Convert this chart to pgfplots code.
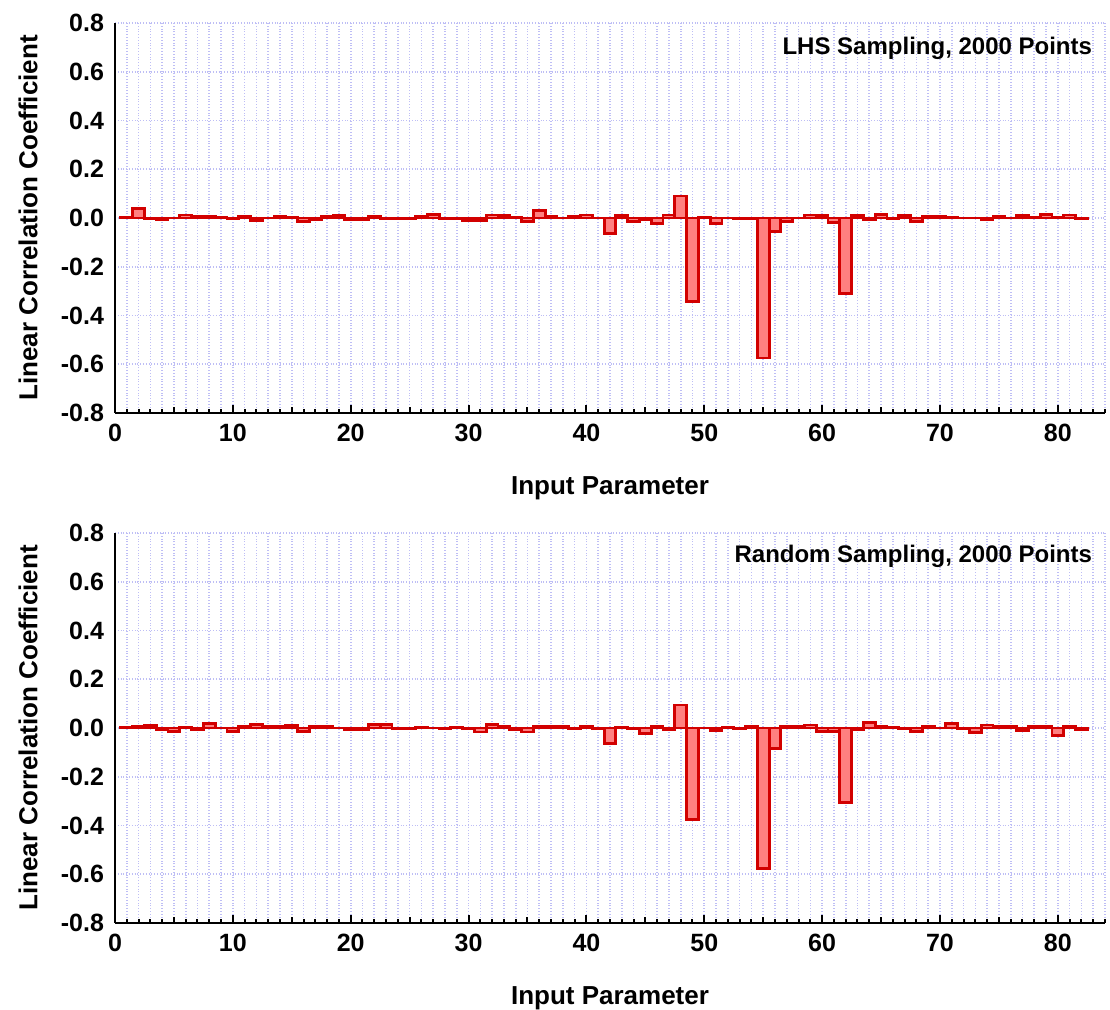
\documentclass[border=0pt]{standalone}
\usepackage{fontspec}
\setmainfont{Liberation Sans}
\usepackage{pgfplots}
\usepackage{pgfplotstable}
\pgfplotsset{compat=1.18}
\definecolor{gridc}{RGB}{190,190,245}
\definecolor{barfill}{RGB}{255,128,128}
\definecolor{bardraw}{RGB}{210,0,0}

\pgfplotstableread{
i v
1 0.002
2 0.04
3 -0.003
4 -0.007
5 0.0
6 0.012
7 0.007
8 0.007
9 0.003
10 -0.003
11 0.007
12 -0.01
13 0.0
14 0.006
15 0.004
16 -0.015
17 -0.005
18 0.005
19 0.01
20 -0.008
21 -0.005
22 0.005
23 -0.002
24 -0.002
25 -0.001
26 0.007
27 0.013
28 -0.003
29 -0.003
30 -0.01
31 -0.01
32 0.012
33 0.01
34 0.004
35 -0.015
36 0.03
37 0.005
38 0.0
39 0.008
40 0.012
41 0.0
42 -0.062
43 0.01
44 -0.015
45 -0.007
46 -0.022
47 0.012
48 0.09
49 -0.344
50 0.003
51 -0.022
52 0.0
53 -0.004
54 -0.004
55 -0.574
56 -0.057
57 -0.013
58 0.0
59 0.012
60 0.01
61 -0.02
62 -0.311
63 0.01
64 -0.007
65 0.015
66 -0.003
67 0.01
68 -0.013
69 0.006
70 0.008
71 0.003
72 0.0
73 0.0
74 -0.006
75 0.007
76 0.0
77 0.01
78 0.003
79 0.014
80 0.003
81 0.012
82 -0.003
}\lhs

\pgfplotstableread{
i v
1 0.002
2 0.008
3 0.01
4 -0.008
5 -0.015
6 0.003
7 -0.007
8 0.02
9 0.0
10 -0.014
11 0.008
12 0.013
13 0.005
14 0.005
15 0.01
16 -0.015
17 0.005
18 0.007
19 0.0
20 -0.008
21 -0.008
22 0.013
23 0.013
24 -0.003
25 -0.003
26 0.004
27 0.0
28 -0.002
29 0.003
30 -0.002
31 -0.016
32 0.013
33 0.008
34 -0.005
35 -0.016
36 0.008
37 0.008
38 0.008
39 -0.003
40 0.008
41 -0.002
42 -0.064
43 0.004
44 -0.003
45 -0.022
46 0.008
47 -0.008
48 0.094
49 -0.376
50 0.0
51 -0.01
52 0.002
53 -0.003
54 0.005
55 -0.578
56 -0.084
57 0.008
58 0.008
59 0.012
60 -0.015
61 -0.015
62 -0.305
63 -0.006
64 0.022
65 0.006
66 0.002
67 -0.002
68 -0.015
69 0.007
70 0.0
71 0.018
72 -0.003
73 -0.018
74 0.012
75 0.007
76 0.007
77 -0.01
78 0.007
79 0.007
80 -0.03
81 0.005
82 -0.005
}\rnd

\pgfplotsset{corrstyle/.style={
  scale only axis, width=495pt, height=195pt,
  xmin=0, xmax=84, ymin=-0.8, ymax=0.8,
  axis x line*=bottom, axis y line*=left,
  axis line style={line width=1.4pt, -},
  xtick={0,10,...,80}, minor xtick={0,1,...,84},
  extra x ticks={5,15,25,35,45,55,65,75},
  extra x tick labels={},
  extra x tick style={major tick length=3pt},
  ytick={-0.8,-0.6,-0.4,-0.2,0,0.2,0.4,0.6,0.8},
  tick align=inside,
  major tick length=4pt, minor tick length=2pt,
  x tick style={black, line width=1pt},
  y tick style={draw=none},
  grid=both,
  major grid style={gridc, densely dotted, line width=0.8pt},
  minor grid style={gridc, densely dotted, line width=0.8pt},
  /pgf/number format/assume math mode=true,
  yticklabel style={/pgf/number format/fixed, /pgf/number format/fixed zerofill, /pgf/number format/precision=1, xshift=-2pt},
  ticklabel style={font=\fontsize{12.5}{14}\selectfont\bfseries},
  xticklabel style={yshift=-2pt},
  xlabel={Input Parameter},
  ylabel={Linear Correlation Coefficient},
  label style={font=\fontsize{13}{15}\selectfont\bfseries},
  xlabel style={at={(axis description cs:0.5,-0.192)}, anchor=center},
  ylabel style={at={(axis description cs:-0.0879,0.5)}, anchor=center},
}}

\begin{document}
\begin{tikzpicture}
\begin{axis}[corrstyle, at={(0,0)}]
\addplot[ybar, bar width=1, fill=barfill, draw=bardraw, line width=1.4pt] table[x=i,y=v]{\lhs};
\node[anchor=east, font=\fontsize{12}{14}\selectfont\bfseries] at (rel axis cs:0.994,0.936) {LHS Sampling, 2000 Points};
\end{axis}
\begin{axis}[corrstyle, at={(0,-255pt)}]
\addplot[ybar, bar width=1, fill=barfill, draw=bardraw, line width=1.4pt] table[x=i,y=v]{\rnd};
\node[anchor=east, font=\fontsize{12}{14}\selectfont\bfseries] at (rel axis cs:0.994,0.94) {Random Sampling, 2000 Points};
\end{axis}
\pgfresetboundingbox
\path (-57.5pt,-298.5pt) rectangle (497.5pt,206.5pt);
\end{tikzpicture}
\end{document}
